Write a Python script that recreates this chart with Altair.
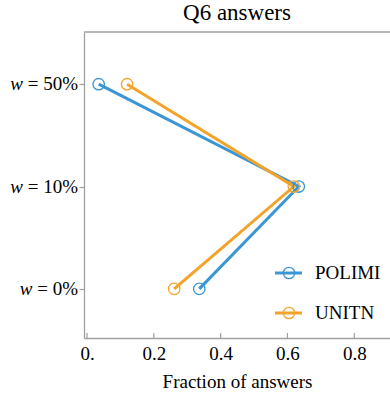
import altair as alt
import pandas as pd

# ---- data ----
levels = ["0%", "10%", "50%"]
series_names = ["POLIMI", "UNITN"]
polimi = [0.336, 0.634, 0.035]
unitn = [0.261, 0.619, 0.120]
x_ticks = [0.0, 0.2, 0.4, 0.6, 0.8]
colors = ["#3b96d3", "#f4a32a"]

rows = []
for name, vals in zip(series_names, [polimi, unitn]):
    for i, (lev, v) in enumerate(zip(levels, vals)):
        rows.append({"series": name, "level": lev, "idx": i, "frac": v})
df = pd.DataFrame(rows)

lab_df = pd.DataFrame({"idx": list(range(len(levels))),
                       "rest": [" = " + l for l in levels]})
leg_df = pd.DataFrame({"series": series_names, "slot": list(range(len(series_names)))})
tick_df = pd.DataFrame({"frac": x_ticks})

W, H = 306, 306
FONT = "Liberation Serif, Times New Roman, Times, serif"
GRAY = "#a0a0a0"

color = alt.Color("series:N", scale=alt.Scale(domain=series_names, range=colors), legend=None)
xs = alt.Scale(domain=[-0.009, 0.907], nice=False, zero=False)
ys = alt.Scale(domain=[-0.48, 2.51], nice=False, zero=False)

xaxis = alt.Axis(values=x_ticks, labelExpr="datum.value == 0 ? '0.' : format(datum.value, '.1f')",
                 ticks=False, grid=False, labelFont=FONT, labelFontSize=19, labelColor="black",
                 labelPadding=6, domainColor=GRAY, domainWidth=1.3,
                 title="Fraction of answers", titleFont=FONT, titleFontSize=19,
                 titleFontWeight="normal", titleColor="black", titlePadding=9)
yaxis = alt.Axis(values=[0, 1, 2], labels=False, ticks=True, tickSize=5, tickColor=GRAY,
                 tickWidth=1.2, domainColor=GRAY, domainWidth=1.3, grid=False, title=None)

X = alt.X("frac:Q", scale=xs, axis=xaxis)
Y = alt.Y("idx:Q", scale=ys, axis=yaxis)

base = alt.Chart(df)
lines = base.mark_line(strokeWidth=3).encode(
    x=X, y=Y, color=color, order=alt.Order("idx:Q"))
points = base.mark_point(filled=False, size=130, strokeWidth=1.3, opacity=1).encode(
    x=X, y=Y, color=color)

top_rule = alt.Chart(pd.DataFrame({"a": [0]})).mark_rule(color=GRAY, strokeWidth=1.3).encode(
    x=alt.value(0), x2=alt.value(W), y=alt.value(0))

xtick_marks = alt.Chart(tick_df).mark_rule(color=GRAY, strokeWidth=1.2).encode(
    x=X, y=alt.value(H - 5), y2=alt.value(H))

ylab_rest = alt.Chart(lab_df).mark_text(align="right", baseline="middle", font=FONT,
                                        fontSize=19, color="black").encode(
    x=alt.value(-6), y=Y, text="rest:N")
ylab_w = alt.Chart(lab_df).transform_calculate(
    wx="-6 - (45.5 + (length(datum.rest) - 5) * 9.5)"
).mark_text(align="right", baseline="middle", font=FONT, fontSize=19,
            fontStyle="italic", color="black").encode(
    x=alt.X("wx:Q", scale=None), y=Y, text=alt.value("w"))

leg_base = alt.Chart(leg_df).transform_calculate(ly="241 + 40 * datum.slot")
leg_line = leg_base.mark_rule(strokeWidth=3).encode(
    x=alt.value(191), x2=alt.value(218), y=alt.Y("ly:Q", scale=None), color=color)
leg_pt = leg_base.mark_point(filled=False, size=130, strokeWidth=1.3, opacity=1).encode(
    x=alt.value(205), y=alt.Y("ly:Q", scale=None), color=color)
leg_txt = leg_base.mark_text(align="left", baseline="middle", font=FONT, fontSize=19,
                             color="black").encode(
    x=alt.value(231), y=alt.Y("ly:Q", scale=None), text="series:N")

chart = alt.layer(
    top_rule, xtick_marks, lines, points, ylab_rest, ylab_w, leg_line, leg_pt, leg_txt
).properties(
    width=W, height=H,
    title=alt.TitleParams("Q6 answers", font=FONT, fontSize=23, fontWeight="normal",
                          color="black", anchor="middle", offset=6),
    autosize=alt.AutoSizeParams(type="none"),
    padding={"left": 84, "top": 32, "right": 0, "bottom": 57},
).configure_view(stroke=None)

chart.save("out.html", embed_options={"renderer": "svg", "actions": False})
